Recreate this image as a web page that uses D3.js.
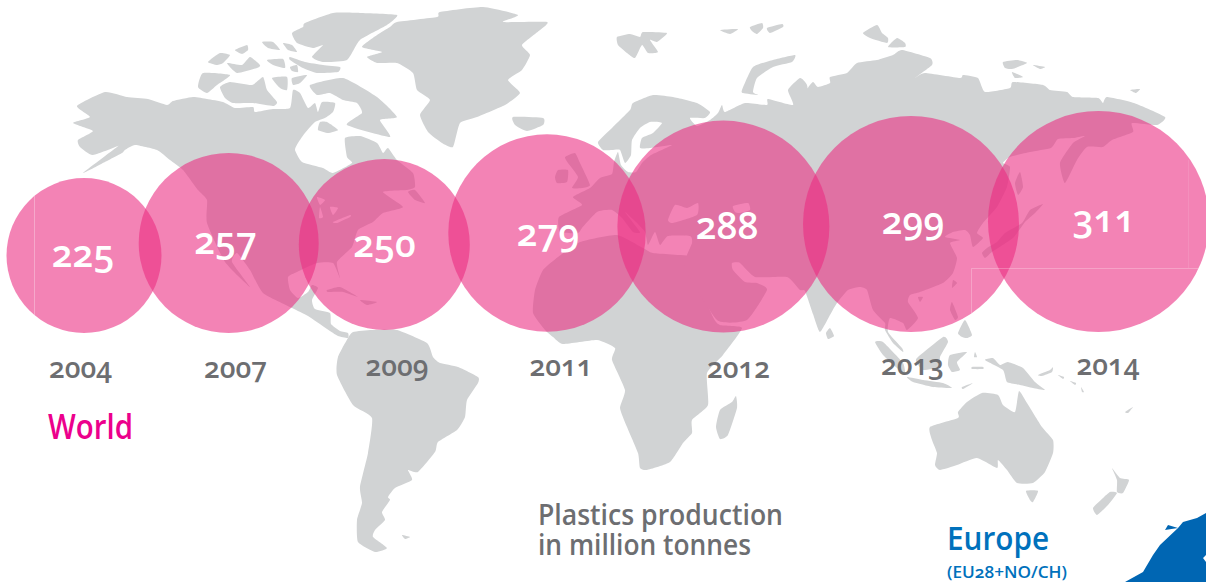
<!DOCTYPE html>
<html>
<head>
<meta charset="utf-8">
<script src="https://d3js.org/d3.v7.min.js"></script>
<style>
html, body { margin: 0; padding: 0; background: #fff; overflow: hidden; }
text { font-family: "Open Sans", "Noto Sans", sans-serif; font-variant-numeric: oldstyle-nums; font-feature-settings: "onum"; }
</style>
</head>
<body>
<div id="chart"></div>
<script>
var years = ["2004", "2007", "2009", "2011", "2012", "2013", "2014"];
var production = [225, 257, 250, 279, 288, 299, 311];

// backdrop map (screen pixels)
var landMasses = [
  // north america
  [[77,106],[105,92],[127,97],[148,99],[167,105],[173,101],[193,97],[207,99],[223,102],[235,108],[253,107],[255,112],[273,109],[290,108],[293,90],[300,93],[308,108],[315,103],[318,112],[322,102],[335,103],[333,112],[325,118],[315,122],[305,133],[298,143],[295,150],[302,162],[323,168],[333,173],[352,163],[347,157],[345,138],[360,136],[377,143],[383,153],[388,148],[397,160],[413,173],[415,187],[407,190],[383,192],[403,207],[383,213],[373,222],[358,230],[352,247],[337,262],[340,278],[333,263],[317,263],[297,272],[288,277],[290,290],[298,298],[308,292],[312,285],[318,288],[312,300],[315,309],[330,313],[331,324],[340,331],[348,333],[348,338],[338,336],[327,329],[308,316],[292,308],[263,293],[250,270],[237,253],[232,262],[250,287],[225,262],[207,223],[207,200],[198,190],[183,170],[170,160],[157,150],[135,145],[125,150],[122,153],[103,163],[83,173],[117,147],[123,144],[93,155],[80,147],[78,140],[93,131],[73,123],[90,117]],
  // arctic canada
  [[310,85],[343,78],[377,97],[397,117],[380,120],[390,137],[347,125],[362,113],[357,103],[343,100],[330,93],[317,95]],
  [[320,122],[327,122],[338,130],[328,133],[318,130]],
  [[220,87],[230,82],[252,85],[263,77],[267,90],[277,102],[273,106],[253,103],[233,103],[225,98]],
  [[203,73],[230,75],[217,85],[207,93],[198,87]],
  [[272,78],[287,77],[287,90],[280,88]],
  [[292,78],[307,75],[300,83],[293,85]],
  [[227,63],[242,65],[250,57],[260,65],[257,68],[237,73]],
  [[208,62],[220,53],[230,55],[223,63],[217,65]],
  [[235,50],[247,45],[248,50],[242,54]],
  [[262,42],[273,42],[280,50],[268,48]],
  [[283,43],[292,45],[297,52],[288,50]],
  [[267,60],[283,59],[285,68],[273,65]],
  [[290,57],[305,62],[323,65],[340,67],[338,72],[317,73],[303,68],[290,60]],
  [[290,67],[297,65],[298,72],[292,71]],
  [[305,23],[333,13],[360,13],[397,15],[387,25],[360,40],[347,60],[323,62],[312,57],[323,45],[313,48],[297,43],[292,33],[303,27]],
  // greenland, iceland, newfoundland
  [[397,22],[437,17],[440,12],[483,7],[518,15],[503,22],[547,22],[540,30],[522,45],[530,55],[522,70],[508,80],[520,93],[505,105],[477,117],[460,123],[453,147],[442,143],[428,132],[420,115],[430,100],[417,90],[413,73],[397,63],[377,63],[367,57],[382,52],[362,47],[377,35],[390,27]],
  [[513,117],[543,118],[543,125],[527,131],[515,125]],
  [[415,190],[425,203],[415,200],[408,192]],
  // caribbean
  [[327,290],[340,287],[358,297],[343,292],[328,292]],
  [[360,300],[377,302],[367,305]],
  // south america
  [[348,338],[353,332],[372,330],[397,330],[427,343],[433,357],[440,363],[458,367],[478,377],[478,383],[467,400],[465,417],[457,430],[438,442],[435,452],[418,472],[408,470],[412,480],[395,488],[388,497],[390,500],[382,512],[385,520],[375,530],[373,537],[387,548],[375,552],[358,542],[357,520],[362,503],[360,487],[368,453],[372,418],[353,405],[337,375],[338,357]],
  [[402,535],[410,537],[405,539]],
  // africa
  [[558,257],[580,242],[617,235],[643,248],[653,253],[690,256],[690,262],[713,317],[720,325],[742,328],[723,355],[707,373],[708,405],[692,420],[692,433],[683,443],[670,462],[647,470],[640,468],[638,453],[627,427],[620,408],[625,390],[612,360],[615,348],[597,340],[563,344],[553,337],[545,330],[533,313],[535,290],[543,270]],
  [[736,396],[737,408],[728,435],[720,439],[716,427],[720,410],[732,402]],
  // eurasia
  [[560,232],[559,217],[582,205],[573,197],[590,188],[600,178],[612,174],[614,162],[618,152],[621,165],[628,172],[636,172],[642,163],[651,155],[672,145],[650,148],[640,148],[642,138],[653,133],[662,123],[650,122],[640,128],[632,140],[631,155],[625,163],[620,150],[612,150],[603,150],[598,142],[612,128],[630,110],[633,103],[653,95],[673,97],[697,103],[710,112],[705,118],[690,118],[697,126],[710,120],[718,113],[722,105],[725,112],[745,103],[767,105],[768,99],[793,105],[788,90],[800,78],[807,85],[810,107],[807,90],[813,82],[818,87],[830,83],[830,77],[847,73],[857,63],[877,60],[893,55],[902,50],[930,58],[932,65],[915,78],[925,73],[960,78],[963,75],[978,78],[985,92],[1010,88],[1013,82],[1043,85],[1050,90],[1067,92],[1073,97],[1098,98],[1103,103],[1107,97],[1134,103],[1165,117],[1157,125],[1132,123],[1133,132],[1112,140],[1103,147],[1087,147],[1077,160],[1065,183],[1060,163],[1073,143],[1085,136],[1073,138],[1058,139],[1051,148],[1030,152],[1010,157],[1003,163],[1010,167],[1007,187],[997,207],[983,223],[977,233],[983,238],[973,247],[970,235],[965,230],[953,232],[945,237],[960,240],[950,243],[957,258],[953,273],[943,283],[920,292],[910,295],[908,302],[918,318],[907,330],[903,323],[890,318],[888,332],[902,348],[903,352],[893,343],[885,330],[885,323],[873,310],[867,290],[860,287],[848,290],[837,303],[830,315],[820,332],[813,314],[805,291],[800,290],[787,277],[755,277],[740,263],[732,263],[733,270],[745,282],[757,283],[767,290],[747,320],[717,320],[685,267],[692,243],[690,236],[668,236],[660,245],[655,232],[648,245],[645,232],[636,222],[625,212],[640,232],[633,232],[622,218],[612,210],[597,212],[582,228],[578,233]],
  // britain, ireland, sri lanka
  [[565,157],[575,153],[580,163],[590,185],[582,188],[572,188],[578,177],[568,163]],
  [[558,170],[568,170],[567,182],[557,183],[555,177]],
  [[830,328],[834,336],[828,339],[826,333]],
  // arctic russia
  [[617,37],[630,34],[640,37],[643,32],[667,33],[657,42],[650,40],[658,52],[648,53],[642,45],[635,58],[627,53],[618,45]],
  [[720,30],[738,29],[730,34]],
  [[750,27],[762,23],[763,28],[757,34],[752,31]],
  [[767,28],[782,24],[783,27],[770,33]],
  [[742,90],[753,67],[773,60],[795,55],[792,62],[773,67],[757,78],[753,92],[758,95],[743,93]],
  [[863,33],[877,25],[882,33],[888,38],[887,43],[870,38]],
  [[888,47],[897,38],[905,43],[905,47]],
  [[1003,62],[1017,60],[1027,63],[1012,69],[1005,68]],
  [[1033,65],[1045,67],[1040,69]],
  [[1012,72],[1023,77],[1015,78]],
  [[1130,90],[1140,89],[1136,93]],
  // east asia islands
  [[1020,172],[1023,187],[1018,195],[1015,183]],
  [[1043,204],[1030,210],[1022,223],[1005,233],[997,242],[987,248],[982,253],[985,258],[992,252],[1013,238],[1025,222],[1035,213]],
  [[953,280],[957,283],[952,288]],
  [[918,297],[923,297],[920,302]],
  [[952,302],[958,317],[955,320],[950,310]],
  [[958,333],[965,320],[972,335],[967,338],[962,337]],
  // indonesia
  [[917,358],[943,337],[948,342],[940,357],[940,367],[923,370],[917,363]],
  [[875,342],[883,342],[903,363],[905,375],[897,368],[883,355]],
  [[907,377],[923,380],[943,383],[952,388],[933,387],[913,382]],
  [[950,355],[967,352],[957,362],[960,370],[952,372],[948,365]],
  [[962,387],[973,383],[963,389]],
  [[975,352],[977,357],[974,357]],
  [[972,367],[983,367],[983,369],[972,369]],
  [[985,360],[993,358],[1000,365],[1008,362],[1023,368],[1035,382],[1045,390],[1033,388],[1020,385],[1007,382],[1003,370]],
  [[1038,375],[1050,370],[1053,367],[1052,372],[1042,376]],
  [[1058,375],[1064,377],[1063,379]],
  [[1070,381],[1076,383],[1075,385]],
  [[1081,387],[1084,392],[1082,392]],
  [[1125,412],[1133,407],[1128,413]],
  // australia and new zealand
  [[930,427],[958,418],[958,412],[967,402],[982,393],[998,395],[1003,405],[1015,412],[1019,391],[1027,403],[1042,427],[1053,440],[1053,453],[1045,472],[1033,483],[1017,483],[1007,470],[998,460],[997,468],[977,458],[957,465],[940,470],[935,465],[937,453],[932,440]],
  [[1026,491],[1038,491],[1033,502],[1030,500]],
  [[1112,468],[1120,478],[1129,480],[1123,493],[1117,492],[1117,480]],
  [[1110,492],[1117,493],[1108,505],[1097,515],[1093,508],[1103,498]]
];

// lakes and inland seas, cut back out of the land
var innerWaters = [
  [[317,197],[325,200],[320,205]],
  [[320,207],[323,217],[319,218]],
  [[330,207],[338,208],[333,215]],
  [[333,222],[350,215],[350,217],[337,223]],
  [[668,220],[675,205],[687,208],[698,203],[697,215],[673,223]],
  [[733,206],[748,203],[750,210],[740,213],[735,212]]
];

var europeCorner = [[1125,582],[1143,572],[1153,555],[1160,545],[1178,528],[1165,530],[1168,525],[1178,528],[1183,522],[1197,518],[1206,513],[1206,555],[1203,558],[1206,562],[1206,582]];

var width = 1206,
    height = 582;

var svg = d3.select("#chart")
    .append("svg")
    .attr("width", width)
    .attr("height", height)
    .style("display", "block");

var xCircle = d3.scaleOrdinal(years, [84, 228.7, 384.3, 547, 723.4, 911, 1098.5]);
var yCircle = d3.scaleOrdinal(years, [255.5, 243, 244.5, 233, 226.6, 224, 221.5]);
// the bubbles grow with the value, but not quite evenly in the original
var rScale = d3.scaleLinear()
    .domain([225, 250, 257, 279, 288, 299, 311])
    .range([77.5, 85.5, 90, 98.7, 106, 108, 110.5]);

var xValue = d3.scaleOrdinal(years, [83, 225.5, 384.5, 548, 727, 913, 1104]);
var yValue = d3.scaleOrdinal(years, [267, 254, 257, 246, 239, 234, 232]);
var xYear = d3.scaleOrdinal(years, [80.5, 235.5, 397, 561, 738.5, 912.5, 1108]);
var yYear = d3.scaleOrdinal(years, [378, 378, 376, 376, 378, 374.5, 374.5]);

var outline = d3.line().curve(d3.curveCardinalClosed.tension(0.5));

svg.append("g")
    .selectAll("path")
    .data(landMasses)
    .enter()
    .append("path")
    .attr("d", outline)
    .attr("fill", "#d1d3d4");

svg.append("g")
    .selectAll("path")
    .data(innerWaters)
    .enter()
    .append("path")
    .attr("d", outline)
    .attr("fill", "#fff");

svg.append("path")
    .attr("d", d3.line()(europeCorner) + "Z")
    .attr("fill", "#0066b3");

svg.append("g")
    .selectAll("circle")
    .data(years)
    .enter()
    .append("circle")
    .attr("cx", function(d){ return xCircle(d); })
    .attr("cy", function(d){ return yCircle(d); })
    .attr("r", function(d, i){ return rScale(production[i]); })
    .attr("fill", "rgb(235,44,129)")
    .attr("fill-opacity", 0.587);

// the faint crop lines left in the bubbles
var clip = svg.append("defs").append("clipPath").attr("id", "inBubbles");
clip.selectAll("circle")
    .data(years)
    .enter()
    .append("circle")
    .attr("cx", function(d){ return xCircle(d); })
    .attr("cy", function(d){ return yCircle(d); })
    .attr("r", function(d, i){ return rScale(production[i]); });

svg.append("path")
    .attr("d", "M34.5,190V340")
    .attr("clip-path", "url(#inBubbles)")
    .attr("fill", "none")
    .attr("stroke", "#fff")
    .attr("stroke-opacity", 0.3);
svg.append("path")
    .attr("d", "M971.5,340V268.5H1206")
    .attr("clip-path", "url(#inBubbles)")
    .attr("fill", "none")
    .attr("stroke", "#fff")
    .attr("stroke-opacity", 0.25);
svg.append("path")
    .attr("d", "M1188.5,160V268")
    .attr("clip-path", "url(#inBubbles)")
    .attr("fill", "none")
    .attr("stroke", "#fff")
    .attr("stroke-opacity", 0.1);

svg.append("g")
    .selectAll("text")
    .data(years)
    .enter()
    .append("text")
    .attr("x", function(d){ return xValue(d); })
    .attr("y", function(d){ return yValue(d); })
    .attr("text-anchor", "middle")
    .attr("font-size", 37)
    .attr("font-weight", 600)
    .attr("fill", "#fff")
    .text(function(d, i){ return production[i]; });

svg.append("g")
    .selectAll("text")
    .data(years)
    .enter()
    .append("text")
    .attr("x", function(d){ return xYear(d); })
    .attr("y", function(d){ return yYear(d); })
    .attr("text-anchor", "middle")
    .attr("font-size", 28)
    .attr("font-weight", 600)
    .attr("fill", "#6d6e71")
    .text(function(d){ return d; });

function label(txt, x, y, size, weight, color, len) {
    svg.append("text")
        .attr("x", x)
        .attr("y", y)
        .attr("font-size", size)
        .attr("font-weight", weight)
        .attr("fill", color)
        .attr("textLength", len)
        .attr("lengthAdjust", "spacingAndGlyphs")
        .text(txt);
}

label("World", 48, 439, 34, 600, "#ec008c", 85);
label("Plastics production", 538, 525, 28, 600, "#6d6e71", 245);
label("in million tonnes", 538, 555, 28, 600, "#6d6e71", 213);
label("Europe", 947, 550, 33, 600, "#0071bc", 102);
label("(EU28+NO/CH)", 947, 578, 17, 600, "#0071bc", 120);
</script>
</body>
</html>
